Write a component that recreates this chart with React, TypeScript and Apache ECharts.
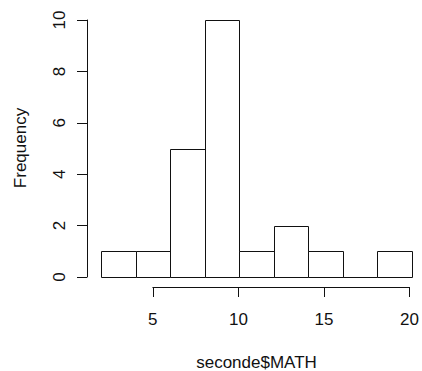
import React, { useEffect, useRef } from "react";
import * as echarts from "echarts";

const binStarts = [2, 4, 6, 8, 10, 12, 14, 16, 18];
const binEnds = [4, 6, 8, 10, 12, 14, 16, 18, 20];
const counts = [1, 1, 5, 10, 1, 2, 1, 0, 1];
const xTicks = [5, 10, 15, 20];
const yTicks = [0, 2, 4, 6, 8, 10];
const xTitle = "seconde$MATH";
const yTitle = "Frequency";

const FONT = "'Liberation Sans', Arial, sans-serif";
const INK = "#111";

export default function App() {
  const ref = useRef<HTMLDivElement>(null);
  useEffect(() => {
    if (!ref.current) return;
    const chart = echarts.init(ref.current, null, { renderer: "svg" });
    const data = binStarts.map((s, i) => [s, binEnds[i], counts[i]]);
    const plotLeft = 101;
    const plotRight = 10;
    const plotWidth = 422 - plotLeft - plotRight;
    const xMin = binStarts[0];
    const xMax = binEnds[binEnds.length - 1];
    const axisStart = xTicks[0];
    const axisLeft = plotLeft + ((axisStart - xMin) / (xMax - xMin)) * plotWidth;
    chart.setOption({
      animation: false,
      backgroundColor: "#fff",
      textStyle: { fontFamily: FONT },
      grid: [
        { left: plotLeft, right: plotRight, top: 20, bottom: 94 },
        { left: axisLeft, right: plotRight, top: 20, bottom: 94 },
      ],
      xAxis: [
        {
          type: "value",
          gridIndex: 0,
          min: xMin,
          max: xMax,
          show: false,
        },
        {
          type: "value",
          gridIndex: 1,
          min: xTicks[0],
          max: xTicks[xTicks.length - 1],
          interval: 5,
          offset: 10,
          axisLine: { show: true, onZero: false, lineStyle: { color: INK, width: 1, opacity: 1 } },
          axisTick: { show: true, length: 10, inside: false, lineStyle: { color: INK, width: 1, opacity: 1 } },
          axisLabel: {
            show: true,
            margin: 24,
            fontSize: 17,
            color: INK,
            fontFamily: FONT,
            showMinLabel: true,
            showMaxLabel: true,
          },
          splitLine: { show: false },
        },
      ],
      yAxis: [
        {
          type: "value",
          gridIndex: 0,
          min: yTicks[0],
          max: yTicks[yTicks.length - 1],
          interval: 2,
          offset: 14,
          axisLine: { show: true, onZero: false, lineStyle: { color: INK, width: 1, opacity: 1 } },
          axisTick: { show: true, length: 10, inside: false, lineStyle: { color: INK, width: 1, opacity: 1 } },
          axisLabel: {
            show: true,
            rotate: 90,
            margin: 19,
            fontSize: 17,
            color: INK,
            fontFamily: FONT,
            showMinLabel: true,
            showMaxLabel: true,
          },
          splitLine: { show: false },
        },
        {
          type: "value",
          gridIndex: 1,
          min: 0,
          max: 10,
          show: false,
        },
      ],
      graphic: [
        {
          type: "text",
          x: plotLeft + plotWidth / 2,
          y: 362,
          style: {
            text: xTitle,
            font: `17px ${FONT}`,
            fill: INK,
            align: "center",
            verticalAlign: "middle",
          },
        },
        {
          type: "text",
          x: 20,
          y: 148,
          rotation: Math.PI / 2,
          style: {
            text: yTitle,
            font: `17px ${FONT}`,
            fill: INK,
            align: "center",
            verticalAlign: "middle",
          },
        },
      ],
      series: [
        {
          type: "custom",
          xAxisIndex: 0,
          yAxisIndex: 0,
          data,
          renderItem: (params: any, api: any) => {
            const x0 = api.value(0);
            const x1 = api.value(1);
            const y = api.value(2);
            const a = api.coord([x0, 0]);
            const b = api.coord([x1, y]);
            const l = Math.round(a[0]) + 0.5;
            const r = Math.round(b[0]) + 0.5;
            const bot = Math.round(a[1]) + 0.5;
            const top = Math.round(b[1]) + 0.5;
            return {
              type: "polygon",
              shape: {
                points: [
                  [l, bot],
                  [l, top],
                  [r, top],
                  [r, bot],
                ],
              },
              style: { fill: "#fff", stroke: INK, lineWidth: 1 },
            };
          },
        },
      ],
    });
    return () => chart.dispose();
  }, []);
  return <div ref={ref} style={{ width: 422, height: 371, position: "absolute", left: 0, top: 0 }} />;
}
